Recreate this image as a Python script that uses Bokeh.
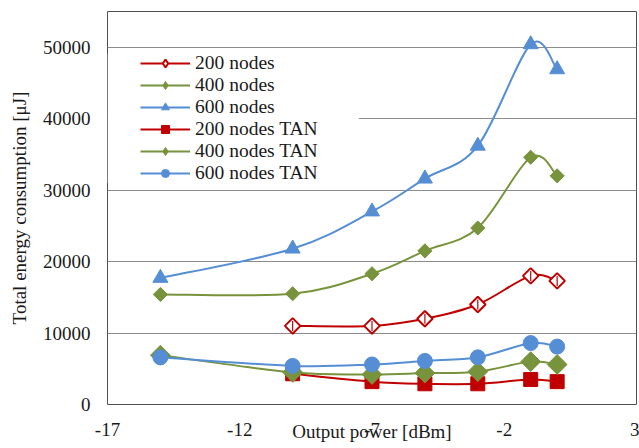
import numpy as np
from bokeh.plotting import figure
from bokeh.models import (Range1d, FixedTicker, Legend, LegendItem,
                          BoxAnnotation, ColumnDataSource)
from bokeh.embed import file_html
from bokeh.resources import INLINE

# Output power levels (dBm) and total energy consumption (uJ)
power_all = [-15, -10, -7, -5, -3, -1, 0]
power_200 = [-10, -7, -5, -3, -1, 0]

energy_200 = [11000, 11000, 12000, 14000, 18000, 17300]
energy_400 = [15400, 15500, 18300, 21500, 24700, 34600, 32000]
energy_600 = [17700, 21800, 27000, 31600, 36200, 50400, 46900]
energy_200_tan = [4300, 3200, 2900, 2900, 3500, 3200]
energy_400_tan = [6900, 4500, 4200, 4400, 4600, 6000, 5600]
energy_600_tan = [6600, 5400, 5600, 6100, 6600, 8600, 8100]

x_ticks = [-17, -12, -7, -2, 3]
x_tick_labels = ["-17", "-12", "-7", "-2", "3"]
y_ticks = [0, 10000, 20000, 30000, 40000, 50000]

RED = "#C00000"
GREEN = "#77933C"
BLUE = "#558ED5"
FONT = "Liberation Serif"
TICK_FONT = "Liberation Serif, Times New Roman, serif"
TEXT = "#1a1a1a"


def smooth_segments(xs, ys):
    """Cubic Bezier segments through the points (Catmull-Rom style tangents)."""
    n = len(xs)
    seg = dict(x0=[], y0=[], x1=[], y1=[], cx0=[], cy0=[], cx1=[], cy1=[])
    for i in range(n - 1):
        a = max(i - 1, 0)
        d = min(i + 2, n - 1)
        seg["x0"].append(xs[i]); seg["y0"].append(ys[i])
        seg["x1"].append(xs[i + 1]); seg["y1"].append(ys[i + 1])
        seg["cx0"].append(xs[i] + (xs[i + 1] - xs[a]) / 6.0)
        seg["cy0"].append(ys[i] + (ys[i + 1] - ys[a]) / 6.0)
        seg["cx1"].append(xs[i + 1] - (xs[d] - xs[i]) / 6.0)
        seg["cy1"].append(ys[i + 1] - (ys[d] - ys[i]) / 6.0)
    return ColumnDataSource(seg)


p = figure(width=639, height=448, output_backend="svg", toolbar_location=None,
           x_range=Range1d(-17, 3), y_range=Range1d(0, 55000),
           min_border_left=107, min_border_right=3, min_border_top=11,
           min_border_bottom=44)
p.background_fill_color = "white"
p.border_fill_color = "white"
p.outline_line_color = "#505050"
p.outline_line_width = 1

p.xgrid.visible = False
p.ygrid.ticker = FixedTicker(ticks=y_ticks)
p.ygrid.grid_line_color = "#8C8C8C"
p.ygrid.grid_line_width = 1

p.xaxis.ticker = FixedTicker(ticks=x_ticks)
p.xaxis.major_label_overrides = dict(zip(x_ticks, x_tick_labels))
p.yaxis.ticker = FixedTicker(ticks=y_ticks)
p.axis.axis_line_color = None
p.axis.major_tick_line_color = None
p.axis.minor_tick_line_color = None
p.axis.major_tick_out = 0
p.axis.major_tick_in = 0
p.axis.minor_tick_out = 0
p.axis.major_label_text_font = TICK_FONT
p.axis.major_label_text_font_size = "19px"
p.axis.major_label_text_color = TEXT
p.xaxis.major_label_standoff = 18
p.yaxis.major_label_standoff = 17

for ax, title in ((p.yaxis, "Total energy consumption [\u03bcJ]"),
                  (p.xaxis, "Output power [dBm]")):
    ax.axis_label = title
    ax.axis_label_text_font = FONT
    ax.axis_label_text_font_size = "19px"
    ax.axis_label_text_font_style = "normal"
    ax.axis_label_text_color = TEXT
p.yaxis.axis_label_standoff = 10
p.xaxis.axis_label_standoff = -18

# white backdrop behind the legend (hides the grid line there)
legend_backdrop = BoxAnnotation(left=-17, right=-7.5, bottom=31000, top=49000,
                                fill_color="white", fill_alpha=1,
                                line_alpha=0, level="glyph")
p.add_layout(legend_backdrop)

series = [
    ("200 nodes", power_200, energy_200, RED, "hollow"),
    ("400 nodes", power_all, energy_400, GREEN, "small_diamond"),
    ("600 nodes", power_all, energy_600, BLUE, "triangle"),
    ("200 nodes TAN", power_200, energy_200_tan, RED, "square"),
    ("400 nodes TAN", power_all, energy_400_tan, GREEN, "big_diamond"),
    ("600 nodes TAN", power_all, energy_600_tan, BLUE, "circle"),
]

# rotated-square size, and the legend diamond size that sits underneath it
diamond_sizes = {"hollow": (11, 13), "small_diamond": (10, 12), "big_diamond": (14, 14)}

items = []
for label, xs, ys, color, kind in series:
    curve = p.bezier(x0="x0", y0="y0", x1="x1", y1="y1", cx0="cx0", cy0="cy0",
                     cx1="cx1", cy1="cy1", source=smooth_segments(xs, ys),
                     line_color=color, line_width=2)
    pts = ColumnDataSource(dict(x=xs, y=ys))
    if kind in diamond_sizes:
        sq, dm = diamond_sizes[kind]
        fill = "white" if kind == "hollow" else color
        lw = 2 if kind == "hollow" else 1
        key = p.scatter("x", "y", source=pts, marker="diamond", size=dm,
                        fill_color=fill, line_color=color, line_width=lw)
        p.scatter("x", "y", source=pts, marker="square", angle=np.pi / 4,
                  size=sq, fill_color=fill, line_color=color, line_width=lw)
        if kind == "hollow":
            p.scatter("x", "y", source=pts, marker="dash", angle=np.pi / 2,
                      size=10, line_color=color, line_width=1.2)
    elif kind == "triangle":
        key = p.scatter("x", "y", source=pts, marker="triangle", size=15,
                        fill_color=color, line_color=color)
    elif kind == "square":
        key = p.scatter("x", "y", source=pts, marker="square", size=14,
                        fill_color=color, line_color=color)
    else:
        key = p.scatter("x", "y", source=pts, marker="circle", size=15,
                        fill_color=color, line_color=color)
    items.append(LegendItem(label=label, renderers=[curve, key]))

legend = Legend(items=items, location=(31, 218), padding=2, spacing=0,
                glyph_width=50, glyph_height=20, label_height=20,
                label_standoff=5, label_text_font=FONT,
                label_text_font_size="19.5px", label_text_color=TEXT,
                background_fill_color="white", background_fill_alpha=1,
                border_line_alpha=0)
p.add_layout(legend)

open("out.html", "w").write(file_html(p, INLINE))
